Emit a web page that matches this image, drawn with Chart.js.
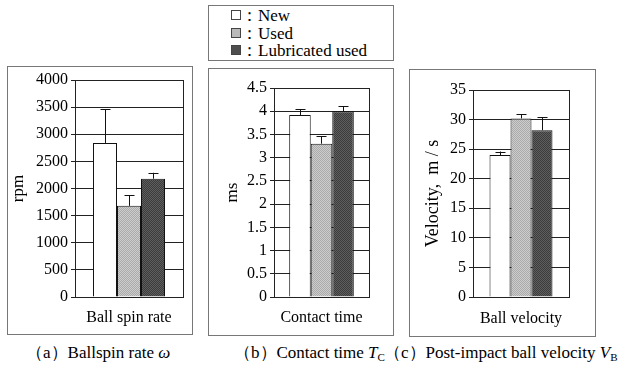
<!DOCTYPE html>
<html>
<head>
<meta charset="utf-8">
<script src="https://cdn.jsdelivr.net/npm/chart.js@4.4.1/dist/chart.umd.min.js"></script>
<style>
  body { margin: 0; width: 618px; height: 368px; position: relative; overflow: hidden; background: #fff;
         font-family: 'Liberation Serif', 'Times New Roman', 'DejaVu Serif', serif; color: #000; }
  .box { position: absolute; border: 1px solid #777; box-sizing: border-box; }
  .wrap { position: absolute; }
  .item { position: absolute; left: 22px; font-size: 17px; line-height: 18px; white-space: nowrap; }
  .sw { display: inline-block; width: 8px; height: 8px; border: 1px solid #444; vertical-align: 1px; }
  .cap { position: absolute; top: 341px; font-size: 17px; white-space: nowrap; }
  .cap i { font-style: italic; }
  .cap sub { font-size: 11px; vertical-align: -3px; line-height: 0; }
</style>
</head>
<body>
<div class="box" id="legend" style="left:208px;top:5px;width:186px;height:56px"></div>

<div class="box" style="left:7px;top:66px;width:186px;height:269px"></div>
<div class="wrap" style="left:7px;top:66px"><canvas id="spin-chart" width="186" height="269"></canvas></div>

<div class="box" style="left:208px;top:68px;width:186px;height:268px"></div>
<div class="wrap" style="left:208px;top:68px"><canvas id="contact-chart" width="186" height="268"></canvas></div>

<div class="box" style="left:409px;top:69px;width:187px;height:268px"></div>
<div class="wrap" style="left:409px;top:69px"><canvas id="velocity-chart" width="187" height="268"></canvas></div>

<div class="cap" style="left:26px">（a）Ballspin rate <i>ω</i></div>
<div class="cap" style="left:234px">（b）Contact time <i>T</i><sub>C</sub></div>
<div class="cap" style="left:384px">（c）Post-impact ball velocity <i>V</i><sub>B</sub></div>

<script>
// series shared by all three panels
const series = ['New', 'Used', 'Lubricated used'];

// (a) ball spin rate, rpm
const spinLabels = ['Ball spin rate'];
const spinRate = [2840, 1680, 2180];
const spinErr = [620, 200, 110];
const spinTicks = [0, 500, 1000, 1500, 2000, 2500, 3000, 3500, 4000];

// (b) contact time, ms
const contactLabels = ['Contact time'];
const contactTime = [3.92, 3.30, 4.00];
const contactErr = [0.12, 0.16, 0.11];
const contactTicks = [0, 0.5, 1, 1.5, 2, 2.5, 3, 3.5, 4, 4.5];

// (c) post-impact ball velocity, m/s
const velocityLabels = ['Ball velocity'];
const velocity = [24.0, 30.2, 28.2];
const velocityErr = [0.6, 0.7, 2.2];
const velocityTicks = [0, 5, 10, 15, 20, 25, 30, 35];

const FONT = "'Liberation Serif', 'Times New Roman', 'DejaVu Serif', serif";

// screen-tone like fills
function tone(base, dot) {
    const c = document.createElement('canvas');
    c.width = 2; c.height = 2;
    const g = c.getContext('2d');
    g.fillStyle = base; g.fillRect(0, 0, 2, 2);
    g.fillStyle = dot; g.fillRect(0, 0, 1, 1); g.fillRect(1, 1, 1, 1);
    return g.createPattern(c, 'repeat');
}
const fills = ['#ffffff', tone('#cdcdcd', '#aaaaaa'), tone('#5e5e5e', '#3c3c3c')];
const swatches = ['#ffffff', '#b9b9b9', '#4e4e4e'];

// one-sided error bars with a cap
const errorBars = {
    id: 'errorBars',
    afterDatasetsDraw(chart) {
        const ctx = chart.ctx;
        const y = chart.scales.y;
        ctx.save();
        ctx.strokeStyle = '#111';
        ctx.lineWidth = 1;
        chart.data.datasets.forEach((ds, i) => {
            const bar = chart.getDatasetMeta(i).data[0];
            const top = y.getPixelForValue(ds.data[0] + ds.err);
            const x = Math.round(bar.x) + 0.5;
            ctx.beginPath();
            ctx.moveTo(x, bar.y);
            ctx.lineTo(x, top);
            ctx.moveTo(x - 5, Math.round(top) + 0.5);
            ctx.lineTo(x + 5, Math.round(top) + 0.5);
            ctx.stroke();
        });
        ctx.restore();
    }
};

function makeChart(id, labels, values, errs, ticks, title, cfg) {
    const ctx = document.getElementById(id).getContext('2d');
    return new Chart(ctx, {
        type: 'bar',
        data: {
            labels: labels,
            datasets: series.map((name, i) => ({
                label: name,
                data: [values[i]],
                err: errs[i],
                backgroundColor: fills[i],
                borderColor: '#111',
                borderWidth: 1
            }))
        },
        options: {
            responsive: false,
            animation: false,
            layout: { padding: { left: 0, right: cfg.right, top: cfg.top, bottom: 0 } },
            plugins: { legend: { display: false }, tooltip: { enabled: false } },
            datasets: { bar: { categoryPercentage: cfg.cat, barPercentage: 1 } },
            scales: {
                x: {
                    grid: { color: '#222', drawTicks: false },
                    border: { color: '#222' },
                    ticks: { color: '#000', padding: cfg.xpad, font: { family: FONT, size: 16 } },
                    afterFit: s => { s.height = cfg.xh; }
                },
                y: {
                    min: ticks[0],
                    max: ticks[ticks.length - 1],
                    afterBuildTicks: s => { s.ticks = ticks.map(v => ({ value: v })); },
                    grid: { color: '#222', tickLength: 4 },
                    border: { color: '#222' },
                    ticks: { color: '#000', padding: 3, font: { family: FONT, size: 16 }, callback: v => String(v) },
                    title: { display: true, text: title, color: '#000', padding: { top: cfg.tpad, bottom: 0 },
                             font: { family: FONT, size: cfg.tsize } },
                    afterFit: s => { s.width = cfg.yw; }
                }
            }
        },
        plugins: [errorBars]
    });
}

function buildLegend() {
    const box = document.getElementById('legend');
    series.forEach((name, i) => {
        const row = document.createElement('div');
        row.className = 'item';
        row.style.top = (1 + i * 17.5) + 'px';
        row.innerHTML = '<span class="sw" style="background:' + swatches[i] + '"></span>：' + name;
        box.appendChild(row);
    });
}

document.addEventListener('DOMContentLoaded', () => {
    buildLegend();
    makeChart('spin-chart', spinLabels, spinRate, spinErr, spinTicks, 'rpm',
        { right: 10, top: 14, yw: 68, xh: 38, cat: 0.667, xpad: 11, tpad: 1, tsize: 17 });
    makeChart('contact-chart', contactLabels, contactTime, contactErr, contactTicks, 'ms',
        { right: 25, top: 20, yw: 66, xh: 39, cat: 0.68, xpad: 11, tpad: 14, tsize: 17 });
    makeChart('velocity-chart', velocityLabels, velocity, velocityErr, velocityTicks, 'Velocity,  m / s',
        { right: 27, top: 21, yw: 64, xh: 40, cat: 0.656, xpad: 12, tpad: 13, tsize: 18 });
});
</script>
</body>
</html>
